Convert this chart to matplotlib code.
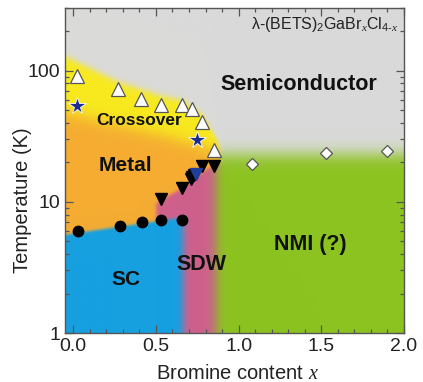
import numpy as np
import matplotlib
matplotlib.use("Agg")
import matplotlib.pyplot as plt
from matplotlib.ticker import LogLocator, NullFormatter, MultipleLocator

plt.rcParams['font.family'] = ['Liberation Sans', 'DejaVu Sans']
plt.rcParams['mathtext.fontset'] = 'custom'
plt.rcParams['mathtext.rm'] = 'Liberation Sans'
plt.rcParams['mathtext.it'] = 'Liberation Serif:italic'

# ---------------- data ----------------
cross_x = [0.02, 0.27, 0.41, 0.53, 0.66, 0.72, 0.78, 0.85]
cross_T = [91.6, 72.5, 60.8, 54.7, 54.7, 51.0, 40.3, 25.0]

star_x = [0.02, 0.75]
star_T = [53.4, 29.7]

sdw_x = [0.53, 0.66, 0.71, 0.72, 0.73, 0.78, 0.85]
sdw_T = [10.5, 12.8, 14.9, 15.5, 16.0, 18.9, 18.9]
sdw_blue_x = [0.745]
sdw_blue_T = [16.2]

sc_x = [0.03, 0.28, 0.415, 0.53, 0.66]
sc_T = [6.0, 6.56, 7.04, 7.3, 7.3]

nmi_x = [1.08, 1.53, 1.90]
nmi_T = [19.5, 23.7, 24.5]

# phase boundaries (for the coloured background)
bnd_cross_top_x = [-0.05, 0.0, 0.27, 0.53, 0.66, 0.78, 0.86, 0.90]
bnd_cross_top_T = [128, 120, 82, 64, 59, 46, 31, 25]
bnd_metal_top_x = [-0.05, 0.3, 0.55, 0.75, 0.90]
bnd_metal_top_T = [48, 38, 32, 27, 24]
bnd_sc_x = [-0.05, 0.66]
bnd_sc_T = [5.6, 7.6]
bnd_sdw_x = [0.50, 0.66, 0.75, 0.85, 0.90]
bnd_sdw_T = [9.8, 12.8, 16.0, 19.0, 19.5]
bnd_nmi_T = 23.0

# ---------------- figure ----------------
W, H = 423, 382
fig = plt.figure(figsize=(W / 100, H / 100), dpi=100)
pos = [65 / W, 1 - 333 / H, 339 / W, 325 / H]

xmin, xmax, ymin, ymax = -0.05, 2.0, 1.0, 300.0

grey = np.array([218, 218, 218]) / 255
yellow = np.array([248, 234, 30]) / 255
orange = np.array([245, 172, 50]) / 255
blue = np.array([22, 160, 225]) / 255
pink = np.array([206, 96, 140]) / 255
green = np.array([140, 195, 32]) / 255


def sig(z):
    return 1 / (1 + np.exp(-np.clip(z, -60, 60)))


def mix(a, b, w):
    return a * (1 - w[..., None]) + b * w[..., None]


nx, ny = 900, 800
X, L = np.meshgrid(np.linspace(xmin, xmax, nx),
                   np.linspace(np.log10(ymin), np.log10(ymax), ny))
l_top = np.interp(X, bnd_cross_top_x, np.log10(bnd_cross_top_T))
l_met = np.interp(X, bnd_metal_top_x, np.log10(bnd_metal_top_T))
l_sc = np.interp(X, bnd_sc_x, np.log10(bnd_sc_T))
l_sdw = np.interp(X, bnd_sdw_x, np.log10(bnd_sdw_T))

left = np.broadcast_to(orange, X.shape + (3,)).copy()
left = mix(left, yellow, sig((L - l_met) / 0.035))
left = mix(left, grey, sig((L - l_top) / 0.015))
left = mix(left, pink, sig((X - 0.50) / 0.006) * sig((l_sdw - L) / 0.008))
left = mix(left, blue, sig((l_sc - L) / 0.006) * sig((0.662 - X) / 0.012))

right = np.broadcast_to(grey, X.shape + (3,)).copy()
right = mix(right, green, sig((np.log10(bnd_nmi_T) - L) / 0.035))

t = sig((L - np.log10(19.0)) / 0.02)
xc = 0.86 * (1 - t) + 0.885 * t
wd = 0.018 * (1 - t) + 0.008 * t
img = mix(left, right, sig((X - xc) / wd))

axbg = fig.add_axes(pos, zorder=0)
axbg.imshow(img, origin='lower', aspect='auto', interpolation='bilinear',
            extent=[xmin, xmax, np.log10(ymin), np.log10(ymax)])
axbg.set_axis_off()

ax = fig.add_axes(pos, zorder=1)
ax.patch.set_alpha(0)
ax.set_yscale('log')
ax.set_xlim(xmin, xmax)
ax.set_ylim(ymin, ymax)

ax.plot(cross_x, cross_T, '^', ms=9.5, mfc='white', mec='#555555', mew=0.9, ls='none')
ax.plot(star_x, star_T, '*', ms=13, mfc='#1b2d8f', mec='white', mew=0.6, ls='none')
ax.plot(sdw_x, sdw_T, 'v', ms=8, mfc='black', mec='black', ls='none')
ax.plot(sdw_blue_x, sdw_blue_T, 'v', ms=9, mfc='#1f3e9a', mec='#1f3e9a', ls='none')
ax.plot(sc_x, sc_T, 'o', ms=7.5, mfc='black', mec='black', ls='none')
ax.plot(nmi_x, nmi_T, 'D', ms=6, mfc='white', mec='#555555', mew=0.9, ls='none')

bold = dict(fontweight='bold', color='#111111', ha='center', va='center')
ax.text(1.366, 78, 'Semiconductor', fontsize=15.5, **bold)
ax.text(0.397, 41.8, 'Crossover', fontsize=12.5, **bold)
ax.text(0.314, 18.9, 'Metal', fontsize=15, **bold)
ax.text(0.316, 2.57, 'SC', fontsize=15, **bold)
ax.text(0.775, 3.3, 'SDW', fontsize=15.5, **bold)
ax.text(1.434, 4.7, 'NMI (?)', fontsize=15.5, **bold)
ax.text(0.985, 0.948, r'λ-(BETS)$_2$GaBr$_{\mathit{x}}$Cl$_{4\text{-}\mathit{x}}$',
        transform=ax.transAxes, ha='right', va='center', fontsize=11.5, color='#222222')

ax.set_xticks([0.0, 0.5, 1.0, 1.5, 2.0])
ax.set_xticklabels(['0.0', '0.5', '1.0', '1.5', '2.0'])
ax.xaxis.set_minor_locator(MultipleLocator(0.1))
ax.set_yticks([1, 10, 100])
ax.set_yticklabels(['1', '10', '100'])
ax.yaxis.set_minor_locator(LogLocator(base=10, subs=np.arange(2, 10)))
ax.yaxis.set_minor_formatter(NullFormatter())
ax.tick_params(which='both', direction='in', top=True, right=True, color='#555555',
               labelsize=14, labelcolor='#222222', width=0.9)
ax.tick_params(which='major', length=6)
ax.tick_params(which='minor', length=3)
for s in ax.spines.values():
    s.set_color('#555555')
    s.set_linewidth(1.0)

ax.set_xlabel('Bromine content $x$', fontsize=14.5, color='#222222')
ax.set_ylabel('Temperature (K)', fontsize=14.5, color='#222222')
ax.xaxis.set_label_coords(0.51, -0.095)
ax.yaxis.set_label_coords(-0.097, 0.41)

fig.savefig('out.png', dpi=100)
